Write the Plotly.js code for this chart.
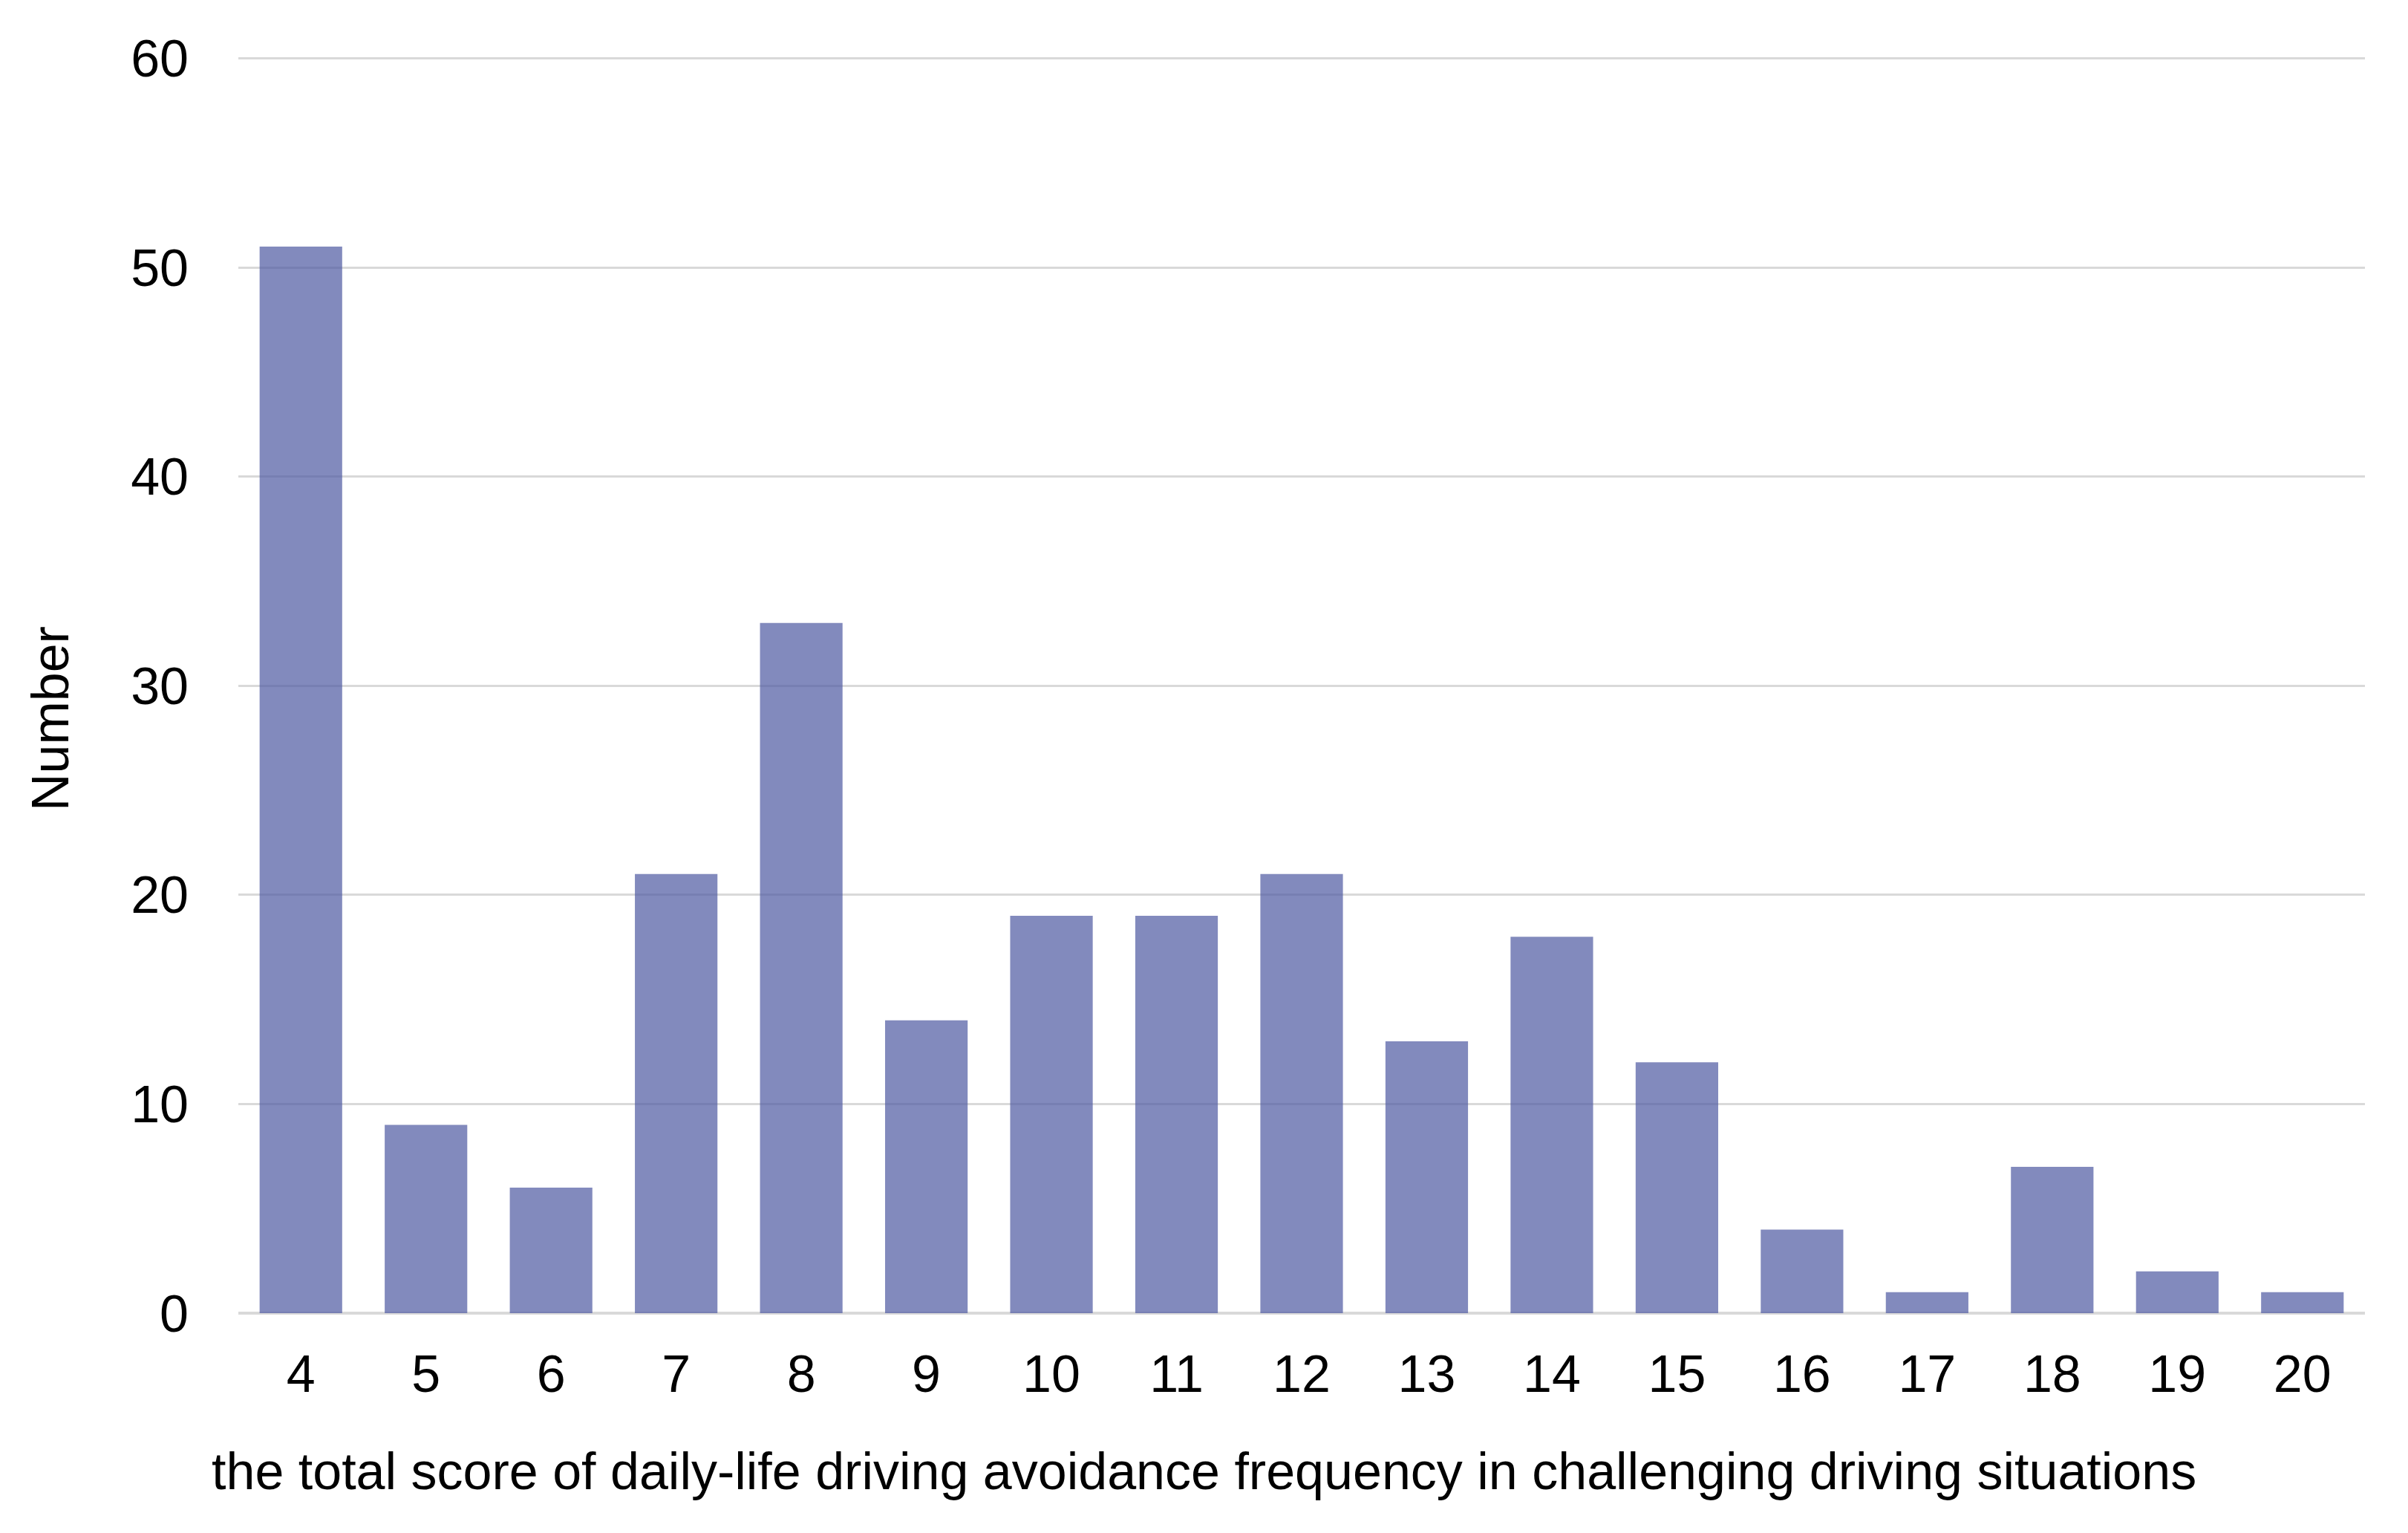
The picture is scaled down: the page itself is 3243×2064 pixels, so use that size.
<!DOCTYPE html>
<html>
<head>
<meta charset="utf-8">
<script src="https://cdn.plot.ly/plotly-3.0.1.min.js"></script>
<style>html,body{margin:0;padding:0;background:#fff;}#chart{width:3243px;height:2064px;}</style>
</head>
<body>
<div id="chart"></div>
<script>
const categories = ["4","5","6","7","8","9","10","11","12","13","14","15","16","17","18","19","20"];
const counts = [51, 9, 6, 21, 33, 14, 19, 19, 21, 13, 18, 12, 4, 1, 7, 2, 1];
const yTicks = [0, 10, 20, 30, 40, 50, 60];
const xTitle = "the total score of daily-life driving avoidance frequency in challenging driving situations";
const yTitle = "Number";

const FONT = "Liberation Sans, Arial, sans-serif";
const FS = 70;

const trace = {
  type: "bar",
  x: categories,
  y: counts,
  width: 0.66,
  marker: {color: "rgba(77,88,161,0.7)", line: {width: 0}},
  hoverinfo: "x+y"
};

const layout = {
  width: 3243,
  height: 2064,
  paper_bgcolor: "#ffffff",
  plot_bgcolor: "#ffffff",
  margin: {l: 321, r: 58, t: 73, b: 296, pad: 0},
  showlegend: false,
  font: {family: FONT, color: "#000000", size: FS},
  xaxis: {
    type: "category",
    categoryorder: "array",
    categoryarray: categories,
    showgrid: false,
    showline: false,
    zeroline: false,
    ticks: "",
    ticklabelstandoff: 35,
    tickfont: {family: FONT, size: FS, color: "#000000"}
  },
  yaxis: {
    range: [0, 60.2],
    tickmode: "array",
    tickvals: yTicks,
    ticktext: yTicks.map(String),
    showgrid: true,
    gridcolor: "#d9d9d9",
    gridwidth: 3,
    zeroline: true,
    zerolinecolor: "#d9d9d9",
    zerolinewidth: 4,
    showline: false,
    ticks: "",
    ticklabelstandoff: 66,
    tickfont: {family: FONT, size: FS, color: "#000000"}
  },
  annotations: [
    {
      text: xTitle,
      xref: "paper", yref: "paper",
      x: 0.454, y: -0.1257,
      xanchor: "center", yanchor: "middle",
      showarrow: false,
      font: {family: FONT, size: FS, color: "#000000"}
    },
    {
      text: yTitle,
      xref: "paper", yref: "paper",
      x: -0.0883, y: 0.472,
      xanchor: "center", yanchor: "middle",
      textangle: -90,
      showarrow: false,
      font: {family: FONT, size: FS, color: "#000000"}
    }
  ]
};

Plotly.newPlot("chart", [trace], layout, {displayModeBar: false, staticPlot: true});
</script>
</body>
</html>
